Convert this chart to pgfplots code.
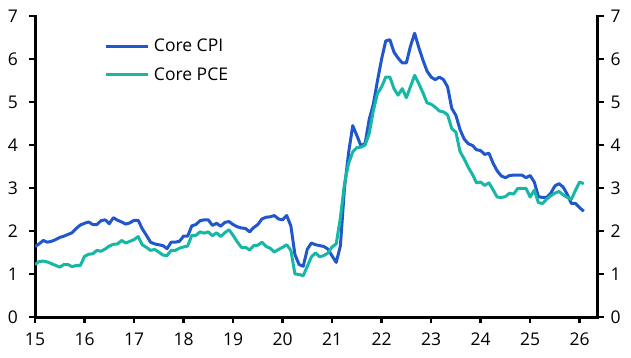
\documentclass[border=0pt]{standalone}
\usepackage{pgfplots}
\pgfplotsset{compat=1.18}
\usepackage{pgfplotstable}
\usepackage{fontspec}
\setmainfont{Open Sans}
\definecolor{cpiblue}{HTML}{2157CC}
\definecolor{pceteal}{HTML}{16B8A5}
\pgfplotstableread{
x cpi pce
15.000 1.64 1.22
15.083 1.70 1.29
15.167 1.78 1.30
15.250 1.74 1.28
15.333 1.76 1.24
15.417 1.80 1.20
15.500 1.85 1.16
15.583 1.88 1.22
15.667 1.92 1.22
15.750 1.96 1.17
15.833 2.06 1.20
15.917 2.14 1.20
16.000 2.18 1.41
16.083 2.21 1.46
16.167 2.15 1.47
16.250 2.15 1.55
16.333 2.24 1.53
16.417 2.26 1.58
16.500 2.17 1.65
16.583 2.31 1.69
16.667 2.25 1.70
16.750 2.21 1.78
16.833 2.16 1.72
16.917 2.19 1.76
17.000 2.25 1.80
17.083 2.25 1.87
17.167 2.05 1.68
17.250 1.90 1.62
17.333 1.74 1.55
17.417 1.70 1.57
17.500 1.68 1.51
17.583 1.66 1.44
17.667 1.59 1.43
17.750 1.74 1.55
17.833 1.74 1.55
17.917 1.76 1.60
18.000 1.88 1.63
18.083 1.88 1.65
18.167 2.12 1.90
18.250 2.15 1.90
18.333 2.24 1.98
18.417 2.26 1.95
18.500 2.26 1.98
18.583 2.13 1.89
18.667 2.18 1.96
18.750 2.11 1.87
18.833 2.20 1.96
18.917 2.22 2.03
19.000 2.15 1.90
19.083 2.10 1.75
19.167 2.07 1.62
19.250 2.06 1.62
19.333 1.98 1.56
19.417 2.08 1.66
19.500 2.15 1.67
19.583 2.28 1.74
19.667 2.32 1.64
19.750 2.33 1.60
19.833 2.36 1.51
19.917 2.28 1.57
20.000 2.26 1.62
20.083 2.36 1.68
20.167 2.12 1.55
20.250 1.45 1.00
20.333 1.22 0.99
20.417 1.18 0.96
20.500 1.58 1.18
20.583 1.72 1.40
20.667 1.68 1.49
20.750 1.66 1.40
20.833 1.64 1.43
20.917 1.58 1.49
21.000 1.42 1.63
21.083 1.27 1.70
21.167 1.65 2.30
21.250 3.00 3.10
21.333 3.82 3.57
21.417 4.45 3.84
21.500 4.22 3.94
21.583 3.98 3.95
21.667 4.04 4.00
21.750 4.60 4.27
21.833 4.95 4.80
21.917 5.50 5.20
22.000 6.00 5.35
22.083 6.42 5.58
22.167 6.45 5.58
22.250 6.16 5.31
22.333 6.02 5.16
22.417 5.91 5.31
22.500 5.91 5.10
22.583 6.30 5.36
22.667 6.60 5.62
22.750 6.27 5.43
22.833 5.98 5.22
22.917 5.72 4.98
23.000 5.58 4.95
23.083 5.52 4.88
23.167 5.58 4.79
23.250 5.52 4.77
23.333 5.35 4.70
23.417 4.85 4.38
23.500 4.69 4.30
23.583 4.36 3.85
23.667 4.14 3.68
23.750 4.03 3.48
23.833 3.99 3.32
23.917 3.89 3.12
24.000 3.87 3.14
24.083 3.78 3.06
24.167 3.81 3.12
24.250 3.58 2.96
24.333 3.40 2.79
24.417 3.28 2.78
24.500 3.24 2.80
24.583 3.29 2.88
24.667 3.30 2.86
24.750 3.30 2.99
24.833 3.30 2.99
24.917 3.24 2.99
25.000 3.29 2.79
25.083 3.14 2.95
25.167 2.80 2.66
25.250 2.78 2.64
25.333 2.78 2.74
25.417 2.88 2.82
25.500 3.05 2.88
25.583 3.10 2.92
25.667 3.02 2.84
25.750 2.85 2.78
25.833 2.64 2.74
25.917 2.64 2.95
26.000 2.54 3.14
26.083 2.46 3.10
}\datatable
\begin{document}
\begin{tikzpicture}
\path[use as bounding box] (0,0) rectangle (631pt,357pt);
\pgfplotsset{
  commonax/.style={
    at={(35pt,40pt)}, anchor=south west,
    scale only axis, width=562.5pt, height=301pt,
    xmin=15, xmax=26.36, ymin=0, ymax=7,
    ytick={0,1,...,7},
    tick align=outside,
    major tick length=6pt,
    tick style={line width=2.5pt, black},
    axis line style={line width=3pt, black, line cap=rect},
    tick label style={font=\fontsize{17.5}{20}\selectfont, inner sep=0pt},
    /pgf/number format/assume math mode=true,
  }
}
\begin{axis}[commonax,
  axis x line*=bottom, axis y line*=left,
  xtick={15,16,...,26},
  yticklabel style={xshift=-11pt},
  xticklabel style={yshift=-10pt},
  legend style={at={(rel axis cs:0.1244,0.9226)}, anchor=north west,
    draw=none, fill=none, inner sep=0pt, outer sep=0pt,
    font=\fontsize{17.5}{20}\selectfont,
    row sep=14pt, column sep=4pt, nodes={inner sep=0pt}},
  legend cell align=left,
  legend image code/.code={\draw[#1] (0pt,0pt) -- (42pt,0pt);},
]
\addplot[cpiblue, line width=3pt, line join=round] table[x=x, y=cpi] {\datatable};
\addlegendentry{Core CPI}
\addplot[pceteal, line width=3pt, line join=round] table[x=x, y=pce] {\datatable};
\addlegendentry{Core PCE}
\end{axis}
\begin{axis}[commonax,
  axis y line*=right, axis x line=none,
  yticklabel style={xshift=7pt},
]
\end{axis}
\end{tikzpicture}
\end{document}
